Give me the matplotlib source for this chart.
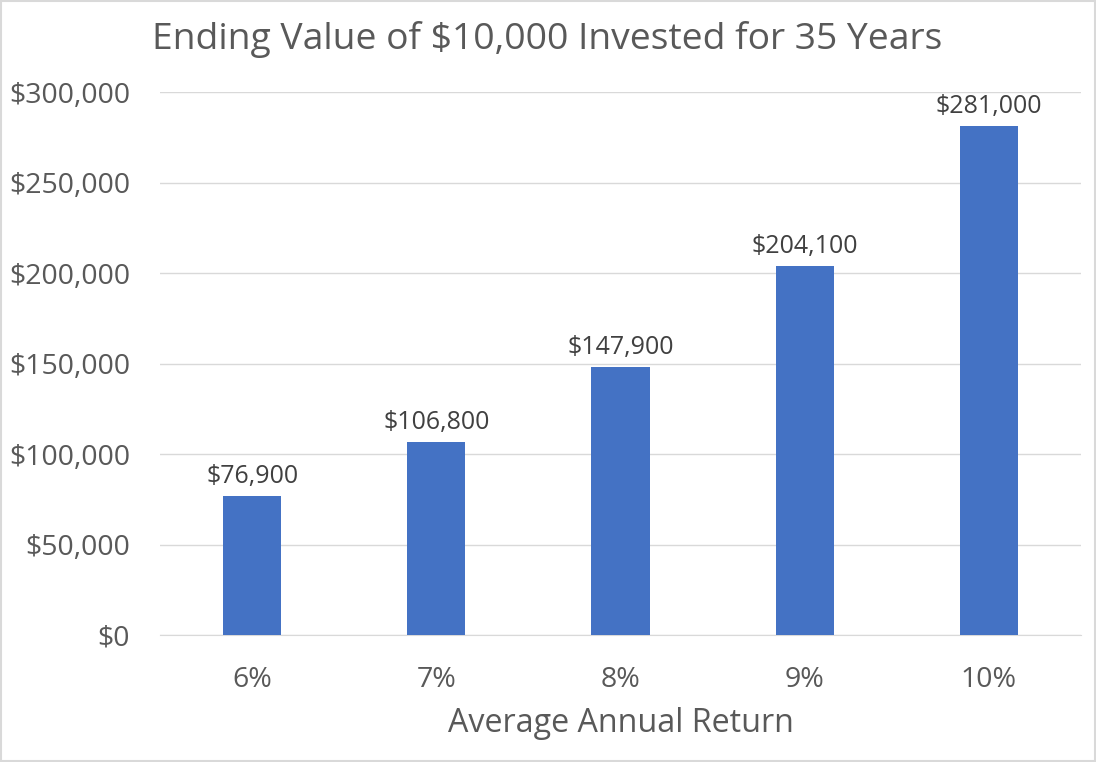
import matplotlib
matplotlib.use("Agg")
import matplotlib.pyplot as plt
from matplotlib.patches import Rectangle
from matplotlib.ticker import FuncFormatter

# chart data
returns = ["6%", "7%", "8%", "9%", "10%"]
ending_values = [76900, 106800, 147900, 204100, 281000]
value_labels = ["$76,900", "$106,800", "$147,900", "$204,100", "$281,000"]
y_ticks = [0, 50000, 100000, 150000, 200000, 250000, 300000]

bar_color = "#4472C4"
text_color = "#595959"
grid_color = "#D9D9D9"

plt.rcParams["font.family"] = ["Open Sans", "DejaVu Sans"]

fig = plt.figure(figsize=(10.96, 7.62), dpi=100)
ax = fig.add_axes([160 / 1096, 1 - 635 / 762, 921 / 1096, 543 / 762])

x = range(len(returns))
ax.bar(x, ending_values, width=0.315, color=bar_color, zorder=3)

for xi, v, lab in zip(x, ending_values, value_labels):
    ax.annotate(lab, (xi, v), xytext=(0, 5), textcoords="offset points",
                ha="center", va="bottom", fontsize=18, color="#404040")

ax.set_xlim(-0.5, len(returns) - 0.5)
ax.set_ylim(0, 300000)
ax.set_yticks(y_ticks)
ax.yaxis.set_major_formatter(FuncFormatter(lambda v, p: f"${v:,.0f}"))
ax.set_xticks(list(x))
ax.set_xticklabels(returns)

ax.grid(axis="y", color=grid_color, linewidth=1, zorder=0)
ax.tick_params(axis="both", length=0, labelsize=20.5, labelcolor=text_color)
ax.tick_params(axis="y", pad=21.5)
ax.tick_params(axis="x", pad=22)
for side in ["top", "right", "left"]:
    ax.spines[side].set_visible(False)
ax.spines["bottom"].set_color(grid_color)
ax.spines["bottom"].set_zorder(1)

ax.set_xlabel("Average Annual Return", fontsize=23.2, color=text_color, labelpad=10)
fig.text(152 / 1096, 1 - 40 / 762, "Ending Value of $10,000 Invested for 35 Years",
         fontsize=26.8, color=text_color, ha="left", va="center")

# thin chart border like the Excel chart area
fig.patches.append(Rectangle((0.001, 0.001), 0.998, 0.998, transform=fig.transFigure,
                             fill=False, edgecolor="#D9D9D9", linewidth=1.5))

fig.savefig("out.png", dpi=100)
